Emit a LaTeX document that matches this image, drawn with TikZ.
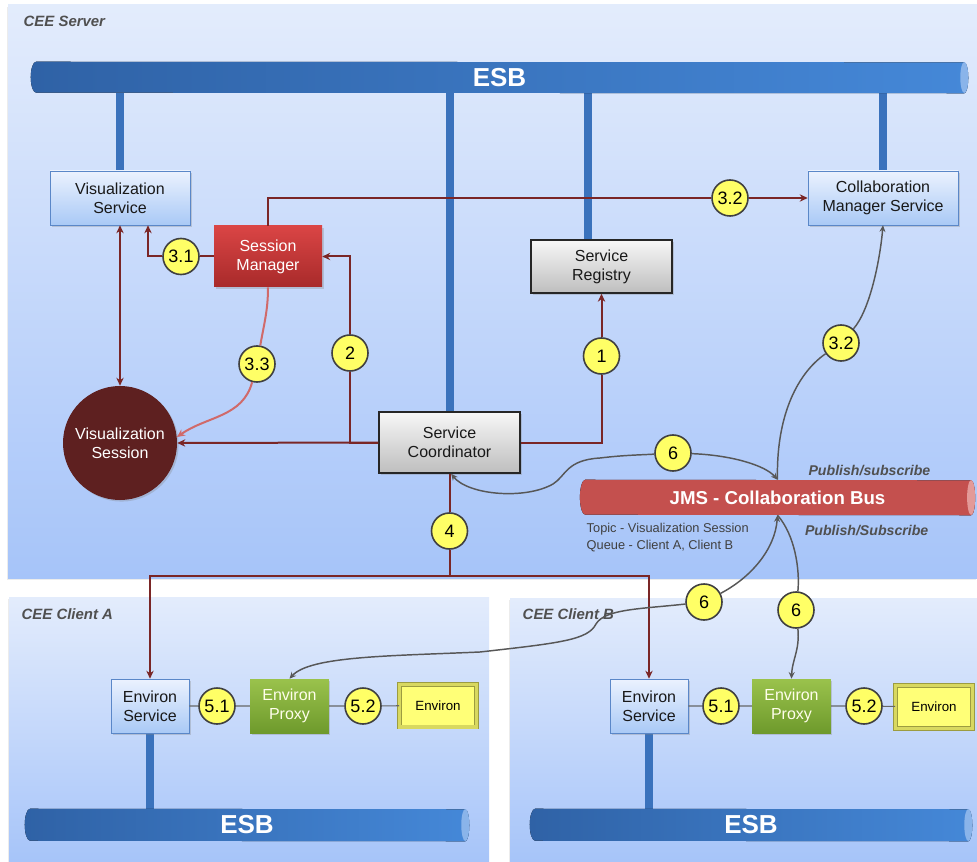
\documentclass[tikz,border=0pt]{standalone}
\usepackage{fontspec}
\setmainfont{Liberation Sans}
\usetikzlibrary{shapes.geometric, arrows.meta, positioning, calc, shadows}

\definecolor{panetop}{HTML}{E3ECFC}
\definecolor{panebot}{HTML}{A6C4F9}
\definecolor{esbdark}{HTML}{2F62A6}
\definecolor{esblight}{HTML}{4588D8}
\definecolor{esbcap}{HTML}{8AB4EA}
\definecolor{esbstub}{HTML}{3A72BC}
\definecolor{svctop}{HTML}{EBF2FE}
\definecolor{svcbot}{HTML}{A9C9F6}
\definecolor{svcline}{HTML}{5A87C8}
\definecolor{greytop}{HTML}{F7F7F7}
\definecolor{greybot}{HTML}{BEBEBE}
\definecolor{mgrtop}{HTML}{DA4545}
\definecolor{mgrbot}{HTML}{A82A2A}
\definecolor{sessfill}{HTML}{5E2020}
\definecolor{flowred}{HTML}{7A2626}
\definecolor{flowpink}{HTML}{D06A6A}
\definecolor{flowgrey}{HTML}{575757}
\definecolor{jmsred}{HTML}{C4504E}
\definecolor{jmscap}{HTML}{E39A98}
\definecolor{proxytop}{HTML}{9AC24C}
\definecolor{proxybot}{HTML}{6E9A2C}
\definecolor{envfill}{HTML}{FFFF77}
\definecolor{envedge}{HTML}{D8D860}
\definecolor{envrim}{HTML}{9C9C40}
\definecolor{ballfill}{HTML}{FFFF66}
\definecolor{labelgrey}{HTML}{505050}

\pgfdeclarelayer{background}
\pgfsetlayers{background,main}

% tube body behind a bus node: name, half height, left colour, right colour, cap colour
\newcommand{\busbody}[5]{%
  \fill[left color=#3, right color=#4] ($(#1.north west)+(4pt,0)$)
    arc[start angle=90, end angle=270, x radius=4pt, y radius=#2]
    -- ($(#1.south east)-(3pt,0)$)
    arc[start angle=-90, end angle=90, x radius=3pt, y radius=#2] -- cycle;
  \fill[#5] ($(#1.east)-(3pt,0)$) ellipse [x radius=3pt, y radius=#2];}

\begin{document}
\begin{tikzpicture}[
    x=0.75pt, y=-0.75pt,
    every node/.style={align=center, font=\fontsize{12}{14.25}\selectfont},
    boxshadow/.style={drop shadow={shadow xshift=1.2pt, shadow yshift=-1.2pt, opacity=0.3}},
    pane/.style={top color=panetop, bottom color=panebot, drop shadow={shadow xshift=-1pt, shadow yshift=-1.5pt, opacity=0.15}},
    panelname/.style={anchor=west, text=labelgrey, font=\bfseries\itshape\fontsize{11.2}{13}\selectfont},
    bus/.style={rectangle, text=white, inner sep=0pt, font=\bfseries\fontsize{19.5}{22}\selectfont},
    jmsbus/.style={rectangle, text=white, inner sep=0pt, minimum width=296pt, minimum height=26.25pt, font=\bfseries\fontsize{14}{16}\selectfont},
    svcbox/.style={rectangle, draw=svcline, top color=svctop, bottom color=svcbot, text=black!90, minimum width=105pt, minimum height=40.5pt, inner sep=1pt, boxshadow},
    greybox/.style={rectangle, draw=black!85, line width=1.1pt, top color=greytop, bottom color=greybot, text=black!90, minimum width=105.75pt, minimum height=39.75pt, inner sep=1pt, boxshadow},
    mgrbox/.style={rectangle, top color=mgrtop, bottom color=mgrbot, text=white, minimum width=81pt, minimum height=45.75pt, inner sep=1pt, boxshadow},
    sessdisc/.style={circle, fill=sessfill, text=white, minimum size=85.5pt, inner sep=0pt, boxshadow},
    proxybox/.style={rectangle, top color=proxytop, bottom color=proxybot, text=white!92!yellow, minimum width=59pt, minimum height=40.5pt, inner sep=1pt, boxshadow},
    envbox/.style={rectangle, fill=envfill, draw=envrim, line width=0.5pt, double=envedge, double distance=2.5pt, minimum width=58pt, minimum height=32pt, font=\fontsize{10}{12}\selectfont, boxshadow},
    numball/.style={circle, fill=ballfill, draw=black!75, line width=1.2pt, minimum size=27pt, inner sep=0pt, font=\fontsize{13.5}{14}\selectfont},
    pubsub/.style={text=labelgrey, font=\bfseries\itshape\fontsize{10.6}{12}\selectfont},
    stub/.style={esbstub, line width=6pt},
    redflow/.style={flowred, line width=1.5pt, -{Stealth[length=6pt, width=5.5pt]}},
    redline/.style={flowred, line width=1.5pt},
    pinkflow/.style={flowpink, line width=1.5pt},
    greyflow/.style={flowgrey, line width=1.1pt},
    tip/.style={-{Stealth[length=5pt, width=4.5pt]}},
    link/.style={black!60, line width=0.8pt}
  ]
  \useasboundingbox (0,0) rectangle (977,862);

  % Panels
  \begin{pgfonlayer}{background}
    \fill[white] (0,0) rectangle (977,862);
    \fill[pane] (8,5) rectangle (977,578);
    \fill[pane] (9,597) rectangle (489,862);
    \fill[pane] (510,598) rectangle (977,862);
  \end{pgfonlayer}
  \node[panelname] (srvname) at (19,21) {CEE Server};
  \node[panelname] (cliAname) at (17,614) {CEE Client A};
  \node[panelname] (cliBname) at (518,614) {CEE Client B};

  % Server nodes
  \node[bus, minimum width=702.75pt, minimum height=23.25pt] (esb) at (499.5,77.5) {ESB};
  \node[svcbox] (vizsvc) at (120,198) {Visualization\\Service};
  \node[svcbox, minimum width=112.5pt] (collab) at (883,198) {Collaboration\\Manager Service};
  \node[mgrbox] (sessmgr) at (268,256.5) {Session\\Manager};
  \node[greybox] (registry) at (601.5,266.5) {Service\\Registry};
  \node[greybox, minimum height=45.75pt] (coord) at (449.5,442.5) {Service\\Coordinator};
  \node[sessdisc] (vizsess) at (120,443) {Visualization\\Session};
  \node[jmsbus] (jms) at (777.5,497.5) {JMS - Collaboration Bus};
  \node[pubsub, anchor=east] (pubtop) at (935,471) {Publish/subscribe};
  \node[pubsub, anchor=east] (pubbot) at (933,531) {Publish/Subscribe};
  \node[anchor=north west, align=left, text=black!75, font=\fontsize{9.6}{12.75}\selectfont] (queues) at (582,519) {Topic - Visualization Session\\Queue - Client A, Client B};

  % Client nodes
  \node[svcbox, minimum width=58.5pt] (envsvcA) at (150,706) {Environ\\Service};
  \node[proxybox] (proxyA) at (289.5,706) {Environ\\Proxy};
  \node[envbox] (environA) at (438,705.5) {Environ};
  \node[bus, minimum width=333pt, minimum height=24pt] (esbA) at (247,825) {ESB};
  \node[svcbox, minimum width=58.5pt] (envsvcB) at (649,706) {Environ\\Service};
  \node[proxybox] (proxyB) at (791.5,706) {Environ\\Proxy};
  \node[envbox] (environB) at (934,707) {Environ};
  \node[bus, minimum width=331.5pt, minimum height=24pt] (esbB) at (751,825) {ESB};

  % Step markers
  \node[numball] (m31) at (181,256.5) {3.1};
  \node[numball] (m32a) at (730,198) {3.2};
  \node[numball] (m33) at (257,364) {3.3};
  \node[numball] (m2) at (350,353) {2};
  \node[numball] (m1) at (601.5,356) {1};
  \node[numball] (m32b) at (841,343) {3.2};
  \node[numball] (m6a) at (673,453) {6};
  \node[numball] (m4) at (449.5,531) {4};
  \node[numball] (m6b) at (704,602) {6};
  \node[numball] (m6c) at (796,610) {6};
  \node[numball] (m51A) at (217,706) {5.1};
  \node[numball] (m52A) at (363,706) {5.2};
  \node[numball] (m51B) at (721,706) {5.1};
  \node[numball] (m52B) at (864,706) {5.2};

  % ESB taps and tubes
  \coordinate (regtap) at ($(registry.north)+(-14,0)$);
  \begin{pgfonlayer}{background}
    \draw[stub] (vizsvc.north) -- (vizsvc.north |- esb.south);
    \draw[stub] (coord.north) -- (coord.north |- esb.south);
    \draw[stub] (regtap) -- (regtap |- esb.south);
    \draw[stub] (collab.north) -- (collab.north |- esb.south);
    \draw[stub] (envsvcA.south) -- (envsvcA.south |- esbA.north);
    \draw[stub] (envsvcB.south) -- (envsvcB.south |- esbB.north);
    \busbody{esb}{11.6pt}{esbdark}{esblight}{esbcap}
    \busbody{esbA}{12pt}{esbdark}{esblight}{esbcap}
    \busbody{esbB}{12pt}{esbdark}{esblight}{esbcap}
    \busbody{jms}{13.1pt}{jmsred}{jmsred}{jmscap}
  \end{pgfonlayer}

  % Server connections
  \draw[redline, {Stealth[length=6pt, width=5.5pt]}-{Stealth[length=6pt, width=5.5pt]}] (vizsvc.south) -- (vizsess.north);
  \draw[redline] (sessmgr.west) -- (m31);
  \draw[redflow] (m31) -| ($(vizsvc.south)+(28,0)$);
  \draw[redline] (sessmgr.north) |- (m32a);
  \draw[redflow] (m32a) -- (collab.west);
  \draw[pinkflow] (sessmgr.south) to[out=-90, in=80] (m33);
  \draw[pinkflow, -{Stealth[length=6pt, width=5.5pt]}] (m33) to[out=-105, in=35] (vizsess.6);
  \draw[redline] (coord.west) -| (m2);
  \draw[redflow] (m2) |- (sessmgr.east);
  \draw[redflow] (coord.west) -- (vizsess.east);
  \draw[redline] (coord.east) -| (m1);
  \draw[redflow] (m1) -- (registry.south);
  \coordinate (fork) at (449.5,576);
  \draw[redline] (coord.south) -- (m4);
  \draw[redline] (m4) -- (fork);
  \draw[redflow] (fork) -| (envsvcA.north);
  \draw[redflow] (fork) -| (envsvcB.north);

  % Collaboration bus traffic
  \draw[greyflow, {Stealth[length=5pt, width=4.5pt]}-] (coord.-87) .. controls (468,495) and (525,500) .. (553,484)
    .. controls (566,476) and (566,460) .. (600,458) .. controls (625,455) and (640,455) .. (m6a);
  \draw[greyflow, tip] (m6a) .. controls (730,455) and (765,465) .. (jms.north);
  \draw[greyflow] (jms.north) .. controls (776,420) and (795,375) .. (m32b);
  \draw[greyflow, tip] (m32b) .. controls (870,310) and (880,260) .. (collab.south);
  \draw[greyflow, {Stealth[length=5pt, width=4.5pt]}-] (jms.south) .. controls (775,550) and (750,578) .. (m6b);
  \draw[greyflow, tip] (m6b) .. controls (640,609) and (605,609) .. (596,624)
    .. controls (588,640) and (560,643) .. (480,652) .. controls (390,656) and (310,656) .. (proxyA.north);
  \draw[greyflow] (jms.south) .. controls (795,535) and (800,570) .. (m6c);
  \draw[greyflow, tip] (m6c) .. controls (800,650) and (792,660) .. (proxyB.north);

  % Client links
  \draw[link] (envsvcA) -- (m51A) -- (proxyA) -- (m52A) -- (environA);
  \draw[link] (envsvcB) -- (m51B) -- (proxyB) -- (m52B) -- (environB);
\end{tikzpicture}
\end{document}
